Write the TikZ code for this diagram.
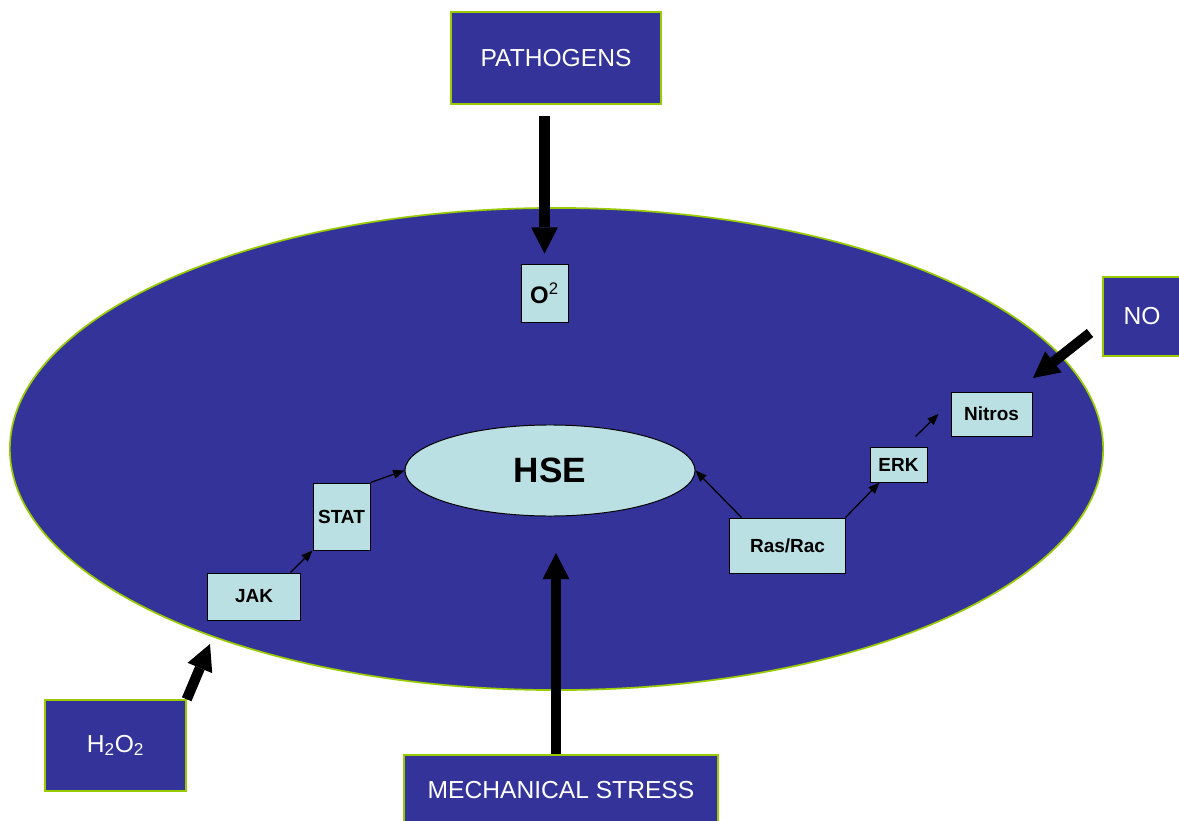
\documentclass[tikz,border=0pt]{standalone}
\usepackage{fontspec}
\setmainfont{Liberation Sans}
\usetikzlibrary{positioning,shapes.geometric,arrows.meta}
\definecolor{cellblue}{HTML}{333399}
\definecolor{paleblue}{HTML}{BBE0E3}
\definecolor{rimgreen}{HTML}{99CC00}
\tikzset{
  darkbox/.style={draw=rimgreen, line width=1pt, fill=cellblue, text=white, inner sep=0pt,
    font=\fontsize{17.5}{19}\selectfont},
  palebox/.style={draw=black, line width=0.7pt, fill=paleblue, inner sep=0pt,
    font=\bfseries\fontsize{13.5}{15}\selectfont},
  bigarrow/.style={line width=7.3pt, -{Triangle[length=18.5pt,width=19pt,line width=0pt]}},
  smallarrow/.style={line width=0.9pt, -{Triangle[length=8pt,width=6.5pt,line width=0pt]}}
}
\begin{document}
\begin{tikzpicture}[x=0.025cm,y=-0.025cm]
                \useasboundingbox (0,0) rectangle (1179,821);
                % cell
                \node[ellipse, draw=rimgreen, line width=1.2pt, fill=cellblue, inner sep=0pt,
                  minimum width=27.325cm, minimum height=12.05cm] (cell) at (556.5,449) {};
                % stimuli outside the cell
                \node[darkbox, minimum width=5.25cm, minimum height=2.3cm] (pathogens) at (556,58) {PATHOGENS};
                \node[darkbox, minimum width=1.95cm, minimum height=1.975cm] (no) at (1142,316.5) {NO};
                \node[darkbox, minimum width=3.525cm, minimum height=2.275cm] (h2o2) at (115.5,745.5) {H\textsubscript{2}O\textsubscript{2}};
                \node[darkbox, minimum width=7.85cm, minimum height=1.75cm] (mech) at (561,790) {MECHANICAL STRESS};
                % inside the cell
                \node[palebox, minimum width=1.175cm, minimum height=1.45cm] (oxy) at (544.5,293) {\fontsize{17}{18}\selectfont O\textsuperscript{\mdseries 2}};
                \node[palebox, ellipse, minimum width=7.25cm, minimum height=2.275cm,
                  font=\bfseries\fontsize{25}{28}\selectfont] (hse) at (550,470.5) {HSE};
                \node[palebox, minimum width=2.3cm, minimum height=1.175cm] (jak) at (254,596.5) {JAK};
                \node[palebox, minimum width=1.425cm, minimum height=1.675cm] (stat) at (341.5,516.5) {STAT};
                \node[palebox, minimum width=2.875cm, minimum height=1.375cm] (ras) at (787.5,545.5) {Ras/Rac};
                \node[palebox, minimum width=1.425cm, minimum height=0.875cm] (erk) at (898.5,464.5) {ERK};
                \node[palebox, minimum width=2.025cm, minimum height=1.1cm] (nitros) at (991.5,414) {Nitros};
                \coordinate (notail) at (1090,333);
                \coordinate (nohead) at (1033,378);
                \coordinate (h2o2head) at (210,644);
                \coordinate (mechhead) at (556,553);
                % big arrows
                \draw[bigarrow, shorten <=0.275cm] (pathogens.south -| oxy.north) -- ([yshift=0.25cm]oxy.north);
                \draw[bigarrow] (notail) -- (nohead);
                \draw[bigarrow] (h2o2.north east) -- (h2o2head);
                \draw[bigarrow] (mech.north -| mechhead) -- (mechhead);
                % pathway
                \draw[smallarrow] ([xshift=-0.25cm]jak.north east) -- (stat.south west);
                \draw[smallarrow] (stat.north east) -- (hse.west);
                \draw[smallarrow] ([xshift=0.3cm]ras.north west) -- (hse.east);
                \draw[smallarrow] (ras.north east) -- ([xshift=0.25cm]erk.south west);
                \draw[smallarrow] ([xshift=-0.3cm,yshift=0.25cm]erk.north east) -- ([xshift=-0.3cm]nitros.west);
            \end{tikzpicture}
\end{document}
